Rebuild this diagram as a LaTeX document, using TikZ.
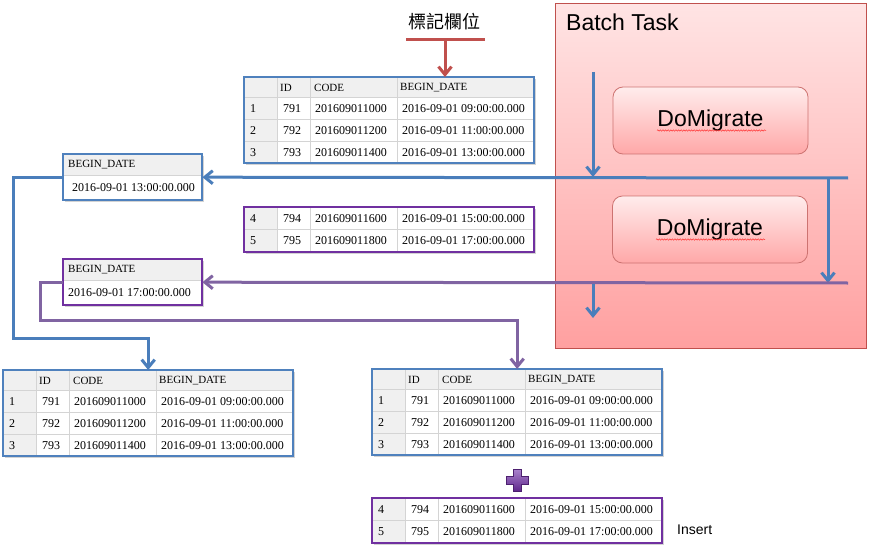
\documentclass[tikz,border=0pt]{standalone}
\usepackage{fontspec}
\setmainfont{Liberation Serif}
\newfontfamily\cjkfont{Noto Sans CJK TC}
\newfontfamily\arialfont{Liberation Sans}
\usetikzlibrary{arrows.meta,shadows,decorations.pathmorphing}

\definecolor{tblblue}{RGB}{79,129,189}
\definecolor{tblpurple}{RGB}{112,48,160}
\definecolor{lnblue}{RGB}{74,126,187}
\definecolor{lnpurple}{RGB}{128,100,162}
\definecolor{lnred}{RGB}{192,80,77}
\definecolor{hdrgray}{RGB}{240,240,240}
\definecolor{gridgray}{RGB}{212,212,212}
\definecolor{pinktop}{RGB}{255,228,228}
\definecolor{pinkbot}{RGB}{255,160,160}
\definecolor{dmtop}{RGB}{255,236,236}
\definecolor{dmbot}{RGB}{255,168,168}
\definecolor{pinkedge}{RGB}{192,80,77}
\definecolor{plustop}{RGB}{170,130,205}
\definecolor{plusbot}{RGB}{96,40,140}

\tikzset{
  tblframe/.style={draw=none, fill=white, inner sep=0, anchor=north west,
    drop shadow={shadow xshift=2pt, shadow yshift=-2pt, opacity=0.35, fill=gray}},
  celltxt/.style={anchor=west, inner sep=0, font=\fontsize{12}{14}\selectfont},
  hdrtxt/.style={anchor=west, inner sep=0, font=\fontsize{11}{13}\selectfont},
  gridl/.style={draw=gridgray, line width=0.8},
  hdrfill/.style={fill=hdrgray},
  blueline/.style={draw=lnblue, line width=3},
  purpleline/.style={draw=lnpurple, line width=3},
  barb/.style={-{Straight Barb[length=8pt,width=13pt]}},
  batchbox/.style={draw=pinkedge, line width=0.8, top color=pinktop, bottom color=pinkbot,
    anchor=north west, inner sep=0, minimum width=311, minimum height=345},
  dmbox/.style={draw=pinkedge!80, line width=0.8, top color=dmtop, bottom color=dmbot,
    rounded corners=10, minimum width=195, minimum height=67, inner sep=0,
    font=\arialfont\fontsize{23}{26}\selectfont},
  squiggle/.style={draw=red!80, line width=0.5, decorate,
    decoration={snake, amplitude=0.7, segment length=2.6}},
}

% three-row table with header: #1 name, #2 x, #3 y, #4 color
\newcommand\threetable[4]{%
  \node[tblframe, minimum width=290, minimum height=86] (#1) at (#2,#3) {};
  \begin{scope}[shift={(#1.north west)}]
    \fill[hdrfill] (0,0) rectangle (290,20);
    \fill[hdrfill] (0,20) rectangle (33,86);
    \foreach \yy in {20,42,64} \draw[gridl] (0,\yy) -- (290,\yy);
    \foreach \xx in {33,66,153} \draw[gridl] (\xx,0) -- (\xx,86);
    \node[hdrtxt] (#1-h1) at (36,10.5) {ID};
    \node[hdrtxt] (#1-h2) at (70,10.5) {CODE};
    \node[hdrtxt] (#1-h3) at (156,10.5) {BEGIN\_DATE};
    \foreach \n/\id/\code/\hh [count=\i] in
      {1/791/201609011000/09, 2/792/201609011200/11, 3/793/201609011400/13} {
      \pgfmathsetmacro\ry{9.5+22*\i}
      \node[celltxt] (#1-n\i) at (6,\ry) {\n};
      \node[celltxt] (#1-i\i) at (39,\ry) {\id};
      \node[celltxt] (#1-c\i) at (71,\ry) {\code};
      \node[celltxt] (#1-d\i) at (158,\ry) {2016-09-01 \hh:00:00.000};
    }
  \end{scope}
  \draw[#4, line width=2] (#1.north west) rectangle (#1.south east);
}

% two-row table: #1 name, #2 x, #3 y, #4 color
\newcommand\tworowtable[4]{%
  \node[tblframe, minimum width=290, minimum height=45] (#1) at (#2,#3) {};
  \begin{scope}[shift={(#1.north west)}]
    \fill[hdrfill] (0,0) rectangle (33,45);
    \draw[gridl] (0,22.5) -- (290,22.5);
    \foreach \xx in {33,66,153} \draw[gridl] (\xx,0) -- (\xx,45);
    \foreach \n/\id/\code/\hh [count=\i] in
      {4/794/201609011600/15, 5/795/201609011800/17} {
      \pgfmathsetmacro\ry{22.5*\i-11}
      \node[celltxt] (#1-n\i) at (6,\ry) {\n};
      \node[celltxt] (#1-i\i) at (39,\ry) {\id};
      \node[celltxt] (#1-c\i) at (71,\ry) {\code};
      \node[celltxt] (#1-d\i) at (158,\ry) {2016-09-01 \hh:00:00.000};
    }
  \end{scope}
  \draw[#4, line width=2] (#1.north west) rectangle (#1.south east);
}

% begin-date box: #1 name, #2 x, #3 y, #4 color, #5 hour, #6 date x offset
\newcommand\datebox[6]{%
  \node[tblframe, minimum width=139, minimum height=46] (#1) at (#2,#3) {};
  \begin{scope}[shift={(#1.north west)}]
    \fill[hdrfill] (0,0) rectangle (139,21);
    \draw[gridl] (0,21) -- (139,21);
    \node[hdrtxt] (#1-h) at (5,11) {BEGIN\_DATE};
    \node[celltxt] (#1-d) at (#6,33.5) {2016-09-01 #5:00:00.000};
  \end{scope}
  \draw[#4, line width=2] (#1.north west) rectangle (#1.south east);
}

\begin{document}
\begin{tikzpicture}[x=1pt, y=-1pt]
\useasboundingbox (0,0) rectangle (870,559);

% Batch task panel
\node[batchbox] (batch) at (555,3) {};
\node[anchor=west, inner sep=0, font=\arialfont\fontsize{23}{25}\selectfont] (batchlbl) at (566,22) {Batch Task};
\node[dmbox] (dm1) at (710.5,120.5) {DoMigrate};
\node[dmbox] (dm2) at (710,229.5) {DoMigrate};
\draw[squiggle] (657,130.5) -- (766,130.5);
\draw[squiggle] (656,239.5) -- (765,239.5);

% title and red marker
\node[inner sep=0, font=\cjkfont\fontsize{18}{20}\selectfont] (title) at (444,22) {標記欄位};
\coordinate (ul1) at (406,40);
\coordinate (ul2) at (485,40);
\coordinate (ua) at (445,40);
\draw[lnred, line width=3] (ul1) -- (ul2);

% tables
\threetable{t1}{244}{77}{tblblue}
\tworowtable{t2}{244}{207}{tblpurple}
\datebox{bd1}{63}{154}{tblblue}{13}{9}
\datebox{bd2}{63}{259}{tblpurple}{17}{5}
\threetable{bl}{3}{370}{tblblue}
\threetable{br}{372}{369}{tblblue}
\tworowtable{t5}{372}{498}{tblpurple}

\draw[lnred, line width=3, -{Straight Barb[length=8pt,width=13pt]}] (ua) -- (ua |- t1.north);

% connector coordinates
\coordinate (bR) at (848,178);
\coordinate (bv) at (828,178);
\coordinate (pR) at (848,283);
\coordinate (bc1) at (13,338);
\coordinate (pc1) at (40,320);
\coordinate (ba1) at (593,72);
\coordinate (ba2) at (593,177);
\coordinate (ba3) at (593,284);
\coordinate (ba4) at (593,318);

% blue flow
\draw[blueline, barb] (bR) -- (bd1.east);
\draw[blueline, barb] (bv) -- (bv |- pR);
\draw[blueline, barb] (ba1) -- (ba2);
\draw[blueline, barb] (bd1.west) -| (bc1) -- (bl.north |- bc1) -- (bl.north);

% purple flow
\draw[purpleline, barb] (pR) -- (bd2.east);
\draw[blueline, barb] (ba3) -- (ba4);
\draw[purpleline, barb] (bd2.west) -| (pc1) -- (br.north |- pc1) -- (br.north);

% plus sign
\shade[top color=plustop, bottom color=plusbot, draw=plusbot!80!black, line width=0.4]
  (513,469) -- (521,469) -- (521,476) -- (528,476) -- (528,484) -- (521,484) --
  (521,491) -- (513,491) -- (513,484) -- (506,484) -- (506,476) -- (513,476) -- cycle;

\node[anchor=west, inner sep=0, font=\arialfont\fontsize{14}{16}\selectfont] (insert) at (677,530) {Insert};
\end{tikzpicture}
\end{document}
